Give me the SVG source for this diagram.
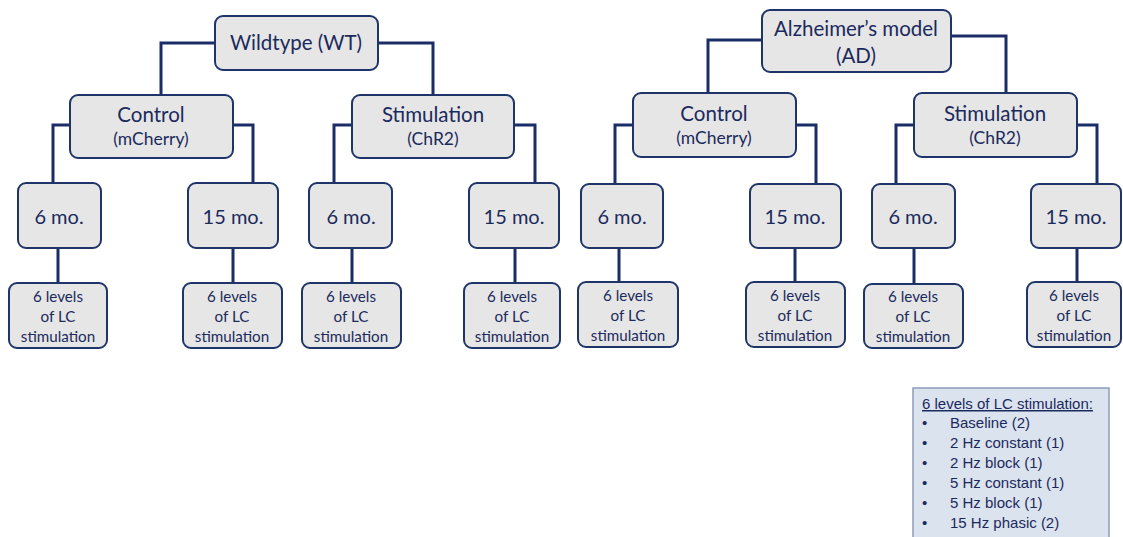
<svg xmlns="http://www.w3.org/2000/svg" width="1123" height="537" viewBox="0 0 1123 537">
<style>
.box{fill:#e6e6e6;stroke:#1f3468;stroke-width:2}
.t{font-family:Lato,"Open Sans",sans-serif;fill:#1b2a5c;text-anchor:middle}
.big{font-size:20.5px}
.age{font-size:20px}
.mid{font-size:17.5px}
.sm{font-size:15.2px}
.conn{fill:none;stroke:#1a2d66;stroke-width:3}
.leg{font-family:"Liberation Sans",Arial,sans-serif;font-size:15px;fill:#1b2a5c}
</style>
<rect width="1123" height="537" fill="#ffffff"/>
<g id="connectors" class="conn">
<path d="M215,43 H161 V95 M378,43 H433 V95"/>
<path d="M70,125 H53 V183 M233,125 H253 V183 M352,125 H334 V183 M514,125 H535 V183"/>
<path d="M58,248 V283 M233,248 V283 M352,248 V283 M515,248 V283"/>
<path d="M762,40 H708 V93 M951,36 H1006 V93"/>
<path d="M633,125 H615 V184 M796,125 H816 V184 M914,125 H896 V184 M1077,125 H1097 V184"/>
<path d="M619,248 V282 M795,248 V282 M914,248 V284 M1077,248 V282"/>
</g>
<g id="wt"><rect class="box" x="215" y="16" width="163" height="54" rx="8"/><text class="t big" x="296" y="50">Wildtype (WT)</text></g>
<g id="wt-control"><rect class="box" x="70" y="95" width="163" height="63" rx="8"/><text class="t big" x="151" y="122">Control</text><text class="t mid" x="151" y="145">(mCherry)</text></g>
<g id="wt-stim"><rect class="box" x="352" y="95" width="162" height="63" rx="8"/><text class="t big" x="433" y="122">Stimulation</text><text class="t mid" x="433" y="145">(ChR2)</text></g>
<g id="wt-c-6"><rect class="box" x="18" y="183" width="83" height="65" rx="8"/><text class="t age" x="59" y="224">6 mo.</text></g>
<g id="wt-c-15"><rect class="box" x="188" y="183" width="90" height="65" rx="8"/><text class="t age" x="233" y="224">15 mo.</text></g>
<g id="wt-s-6"><rect class="box" x="309" y="183" width="83" height="65" rx="8"/><text class="t age" x="351" y="224">6 mo.</text></g>
<g id="wt-s-15"><rect class="box" x="469" y="183" width="90" height="65" rx="8"/><text class="t age" x="514" y="224">15 mo.</text></g>
<g id="wt-c-6-lv"><rect class="box" x="9" y="283" width="98" height="65" rx="8"/><text class="t sm" x="58" y="302">6 levels</text><text class="t sm" x="58" y="322">of LC</text><text class="t sm" x="58" y="342">stimulation</text></g>
<g id="wt-c-15-lv"><rect class="box" x="183" y="283" width="99" height="65" rx="8"/><text class="t sm" x="232" y="302">6 levels</text><text class="t sm" x="232" y="322">of LC</text><text class="t sm" x="232" y="342">stimulation</text></g>
<g id="wt-s-6-lv"><rect class="box" x="302" y="283" width="99" height="65" rx="8"/><text class="t sm" x="351" y="302">6 levels</text><text class="t sm" x="351" y="322">of LC</text><text class="t sm" x="351" y="342">stimulation</text></g>
<g id="wt-s-15-lv"><rect class="box" x="464" y="283" width="96" height="65" rx="8"/><text class="t sm" x="512" y="302">6 levels</text><text class="t sm" x="512" y="322">of LC</text><text class="t sm" x="512" y="342">stimulation</text></g>
<g id="ad"><rect class="box" x="762" y="10" width="189" height="62" rx="8"/><text class="t big" x="856" y="36">Alzheimer’s model</text><text class="t big" x="856" y="63">(AD)</text></g>
<g id="ad-control"><rect class="box" x="633" y="93" width="163" height="64" rx="8"/><text class="t big" x="714" y="121">Control</text><text class="t mid" x="714" y="144">(mCherry)</text></g>
<g id="ad-stim"><rect class="box" x="914" y="93" width="163" height="64" rx="8"/><text class="t big" x="995" y="121">Stimulation</text><text class="t mid" x="995" y="144">(ChR2)</text></g>
<g id="ad-c-6"><rect class="box" x="581" y="184" width="82" height="64" rx="8"/><text class="t age" x="622" y="224">6 mo.</text></g>
<g id="ad-c-15"><rect class="box" x="750" y="184" width="91" height="64" rx="8"/><text class="t age" x="795" y="224">15 mo.</text></g>
<g id="ad-s-6"><rect class="box" x="872" y="184" width="83" height="64" rx="8"/><text class="t age" x="913" y="224">6 mo.</text></g>
<g id="ad-s-15"><rect class="box" x="1031" y="184" width="90" height="64" rx="8"/><text class="t age" x="1076" y="224">15 mo.</text></g>
<g id="ad-c-6-lv"><rect class="box" x="578" y="282" width="100" height="65" rx="8"/><text class="t sm" x="628" y="301">6 levels</text><text class="t sm" x="628" y="321">of LC</text><text class="t sm" x="628" y="341">stimulation</text></g>
<g id="ad-c-15-lv"><rect class="box" x="746" y="282" width="99" height="65" rx="8"/><text class="t sm" x="795" y="301">6 levels</text><text class="t sm" x="795" y="321">of LC</text><text class="t sm" x="795" y="341">stimulation</text></g>
<g id="ad-s-6-lv"><rect class="box" x="864" y="284" width="99" height="64" rx="8"/><text class="t sm" x="913" y="302">6 levels</text><text class="t sm" x="913" y="322">of LC</text><text class="t sm" x="913" y="342">stimulation</text></g>
<g id="ad-s-15-lv"><rect class="box" x="1027" y="282" width="94" height="65" rx="8"/><text class="t sm" x="1074" y="301">6 levels</text><text class="t sm" x="1074" y="321">of LC</text><text class="t sm" x="1074" y="341">stimulation</text></g>
<g id="legend">
<rect x="913" y="388" width="196" height="170" fill="#dbe3ef" stroke="#8c9dbb" stroke-width="1.5"/>
<text class="leg" x="922" y="409" text-decoration="underline">6 levels of LC stimulation:</text>
<text class="leg" x="922" y="428">•</text><text class="leg" x="950" y="428">Baseline (2)</text>
<text class="leg" x="922" y="448">•</text><text class="leg" x="950" y="448">2 Hz constant (1)</text>
<text class="leg" x="922" y="468">•</text><text class="leg" x="950" y="468">2 Hz block (1)</text>
<text class="leg" x="922" y="488">•</text><text class="leg" x="950" y="488">5 Hz constant (1)</text>
<text class="leg" x="922" y="508">•</text><text class="leg" x="950" y="508">5 Hz block (1)</text>
<text class="leg" x="922" y="528">•</text><text class="leg" x="950" y="528">15 Hz phasic (2)</text>
</g>
</svg>
